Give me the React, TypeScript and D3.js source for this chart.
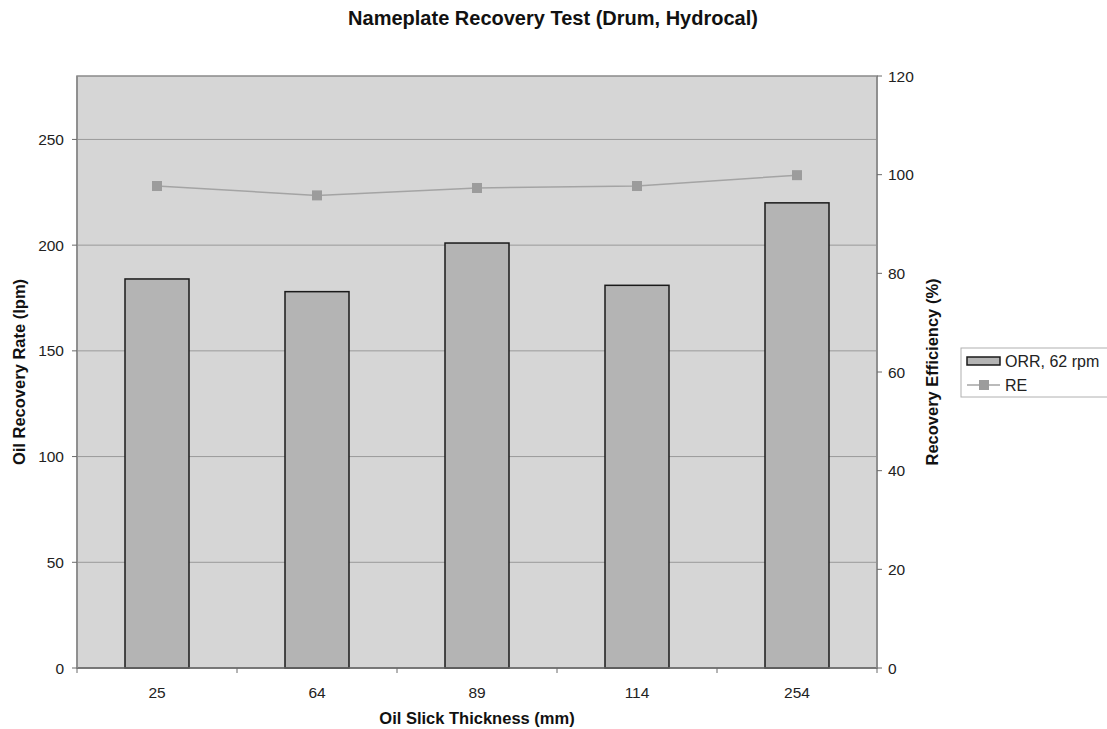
import React from "react";
import * as d3 from "d3";

const categories = ["25", "64", "89", "114", "254"];
const orrValues = [184, 178, 201, 181, 220];
const reValues = [97.7, 95.8, 97.3, 97.7, 99.9];
const leftTicks = [0, 50, 100, 150, 200, 250];
const rightTicks = [0, 20, 40, 60, 80, 100, 120];

const W = 1107;
const H = 729;
const M = { left: 77, right: 877, top: 76, bottom: 668 };

export default function App() {
  const x = d3.scaleBand<string>().domain(categories).range([M.left, M.right]).paddingInner(0.6).paddingOuter(0.3);
  const xc = d3.scaleBand<string>().domain(categories).range([M.left, M.right]);
  const yL = d3.scaleLinear().domain([0, 280]).range([M.bottom, M.top]);
  const yR = d3.scaleLinear().domain([0, 120]).range([M.bottom, M.top]);
  const line = d3
    .line<number>()
    .x((_, i) => (xc(categories[i]) as number) + xc.bandwidth() / 2)
    .y((d) => yR(d));
  const font = "'Liberation Sans', Arial, sans-serif";
  const boundaries = d3.range(categories.length + 1).map((i) => M.left + i * xc.bandwidth());

  return (
    <svg width={W} height={H} style={{ position: "absolute", left: 0, top: 0 }} fontFamily={font}>
      <rect x={0} y={0} width={W} height={H} fill="#ffffff" />
      <text x={553} y={25} textAnchor="middle" fontSize={20} fontWeight="bold" fill="#111">
        Nameplate Recovery Test (Drum, Hydrocal)
      </text>
      <rect x={M.left} y={M.top} width={M.right - M.left} height={M.bottom - M.top} fill="#d6d6d6" stroke="#8a8a8a" strokeWidth={1.5} />
      {leftTicks.filter((t) => t > 0).map((t) => (
        <line key={"g" + t} x1={M.left} x2={M.right} y1={yL(t)} y2={yL(t)} stroke="#9a9a9a" strokeWidth={1} />
      ))}
      {orrValues.map((v, i) => (
        <rect
          key={"b" + i}
          x={x(categories[i])}
          y={yL(v)}
          width={x.bandwidth()}
          height={M.bottom - yL(v)}
          fill="#b4b4b4"
          stroke="#1a1a1a"
          strokeWidth={1.5}
        />
      ))}
      <path d={line(reValues) || ""} fill="none" stroke="#a4a4a4" strokeWidth={1.5} />
      {reValues.map((v, i) => {
        const cx = (xc(categories[i]) as number) + xc.bandwidth() / 2;
        return <rect key={"m" + i} x={cx - 5} y={yR(v) - 5} width={10} height={10} fill="#9c9c9c" />;
      })}
      {/* axes */}
      <line x1={M.left} x2={M.right} y1={M.bottom} y2={M.bottom} stroke="#6a6a6a" strokeWidth={1.5} />
      <line x1={M.left} x2={M.left} y1={M.top} y2={M.bottom} stroke="#8a8a8a" strokeWidth={1.5} />
      <line x1={M.right} x2={M.right} y1={M.top} y2={M.bottom} stroke="#8a8a8a" strokeWidth={1.5} />
      {boundaries.map((b, i) => (
        <line key={"xt" + i} x1={b} x2={b} y1={M.bottom} y2={M.bottom + 5} stroke="#6a6a6a" strokeWidth={1} />
      ))}
      {categories.map((c) => (
        <text key={"xl" + c} x={(xc(c) as number) + xc.bandwidth() / 2} y={M.bottom + 30} textAnchor="middle" fontSize={15.5} fill="#222">
          {c}
        </text>
      ))}
      {leftTicks.map((t) => (
        <g key={"lt" + t}>
          <line x1={M.left - 5} x2={M.left} y1={yL(t)} y2={yL(t)} stroke="#6a6a6a" />
          <text x={M.left - 13} y={yL(t) + 5.5} textAnchor="end" fontSize={15.5} fill="#222">
            {t}
          </text>
        </g>
      ))}
      {rightTicks.map((t) => (
        <g key={"rt" + t}>
          <line x1={M.right} x2={M.right + 5} y1={yR(t)} y2={yR(t)} stroke="#6a6a6a" />
          <text x={M.right + 11} y={yR(t) + 5.5} textAnchor="start" fontSize={15.5} fill="#222">
            {t}
          </text>
        </g>
      ))}
      <text x={477} y={724} textAnchor="middle" fontSize={16.5} fontWeight="bold" fill="#111">
        Oil Slick Thickness (mm)
      </text>
      <text transform={`translate(25,372) rotate(-90)`} textAnchor="middle" fontSize={16.5} fontWeight="bold" fill="#111">
        Oil Recovery Rate (lpm)
      </text>
      <text transform={`translate(938,372) rotate(-90)`} textAnchor="middle" fontSize={16.5} fontWeight="bold" fill="#111">
        Recovery Efficiency (%)
      </text>
      {/* legend */}
      <rect x={961} y={348} width={150} height={49} fill="#ffffff" stroke="#b0b0b0" strokeWidth={1} />
      <rect x={967} y={357} width={33} height={8} fill="#b4b4b4" stroke="#1a1a1a" strokeWidth={1.5} />
      <text x={1005} y={367} fontSize={16} fill="#222">ORR, 62 rpm</text>
      <line x1={967} x2={1000} y1={385} y2={385} stroke="#a4a4a4" strokeWidth={1.5} />
      <rect x={979} y={380} width={10} height={10} fill="#9c9c9c" />
      <text x={1005} y={391} fontSize={16} fill="#222">RE</text>
    </svg>
  );
}
